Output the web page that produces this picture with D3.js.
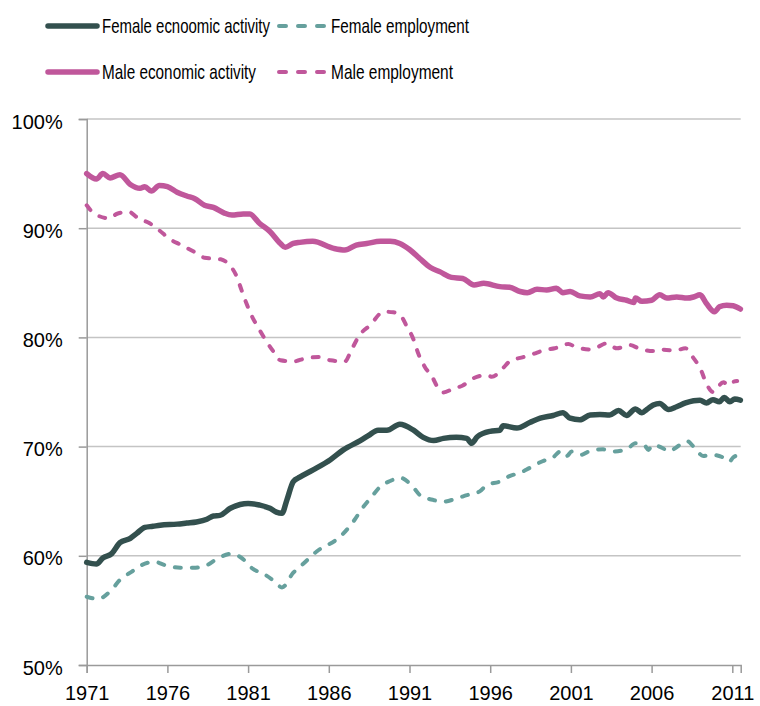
<!DOCTYPE html>
<html>
<head>
<meta charset="utf-8">
<script src="https://cdn.jsdelivr.net/npm/d3@7"></script>
<style>
  body { margin: 0; background: #fff; }
  svg text { font-family: "Liberation Sans", Arial, sans-serif; fill: #000; }
</style>
</head>
<body>
<div id="chart"></div>
<script>
// series (year, percent)
var femActYears = [1971.0, 1971.6, 1972.0, 1972.55, 1973.06, 1973.7, 1974.1, 1974.6, 1975.1, 1975.55, 1976.6, 1977.2, 1977.8, 1978.45, 1978.85, 1979.25, 1979.9, 1980.5, 1981.0, 1981.7, 1982.35, 1982.75, 1983.1, 1983.4, 1983.8, 1984.2, 1985.0, 1986.1, 1986.9, 1987.95, 1988.45, 1989.05, 1989.6, 1990.4, 1991.25, 1991.85, 1992.5, 1993.1, 1993.9, 1994.55, 1994.85, 1995.2, 1996.0, 1996.6, 1996.8, 1997.65, 1998.45, 1999.1, 1999.9, 2000.5, 2000.95, 2001.55, 2002.2, 2002.8, 2003.4, 2003.95, 2004.45, 2005.0, 2005.4, 2005.7, 2006.1, 2006.5, 2007.05, 2007.55, 2008.1, 2008.6, 2009.0, 2009.4, 2009.8, 2010.2, 2010.5, 2010.85, 2011.15, 2011.5];
var femActValues = [59.4, 59.25, 59.8, 60.2, 61.2, 61.6, 62.05, 62.6, 62.7, 62.8, 62.9, 63.0, 63.1, 63.35, 63.65, 63.7, 64.35, 64.7, 64.8, 64.65, 64.35, 64.0, 63.9, 65.1, 66.8, 67.2, 67.85, 68.8, 69.7, 70.55, 71.0, 71.5, 71.5, 72.05, 71.5, 70.85, 70.55, 70.75, 70.85, 70.75, 70.3, 70.9, 71.4, 71.5, 71.9, 71.7, 72.2, 72.6, 72.85, 73.1, 72.6, 72.45, 72.9, 72.95, 72.9, 73.3, 72.85, 73.45, 73.1, 73.4, 73.8, 73.95, 73.4, 73.65, 74.0, 74.2, 74.25, 74.0, 74.3, 74.1, 74.5, 74.1, 74.35, 74.25];

var femEmpYears = [1971.0, 1971.7, 1972.55, 1973.06, 1973.8, 1974.4, 1975.2, 1975.85, 1976.8, 1977.6, 1978.45, 1979.05, 1980.0, 1980.6, 1981.3, 1981.95, 1982.65, 1983.1, 1983.8, 1984.4, 1985.25, 1986.7, 1987.6, 1988.0, 1988.65, 1989.2, 1989.8, 1990.4, 1991.25, 1991.65, 1992.5, 1993.1, 1993.9, 1994.55, 1995.35, 1995.8, 1996.6, 1997.2, 1997.85, 1998.45, 1999.3, 1999.8, 2000.4, 2000.75, 2001.05, 2001.65, 2002.1, 2003.0, 2003.55, 2004.45, 2005.0, 2005.6, 2005.8, 2006.05, 2006.7, 2007.05, 2007.35, 2008.2, 2008.6, 2009.2, 2009.75, 2010.55, 2010.8, 2011.05, 2011.3];
var femEmpValues = [56.25, 56.05, 56.9, 57.8, 58.55, 59.15, 59.45, 59.15, 58.9, 58.9, 59.15, 59.7, 60.2, 59.8, 58.8, 58.35, 57.65, 57.1, 58.45, 59.25, 60.4, 61.75, 63.3, 64.2, 65.4, 66.35, 66.85, 67.15, 66.25, 65.55, 65.1, 64.95, 65.25, 65.55, 65.9, 66.5, 66.8, 67.3, 67.6, 68.05, 68.7, 68.9, 69.6, 69.15, 69.55, 69.25, 69.55, 69.75, 69.55, 69.75, 70.3, 70.05, 69.7, 70.15, 69.85, 69.55, 69.75, 70.5, 70.0, 69.15, 69.25, 68.9, 68.6, 69.0, 69.2];

var maleActYears = [1971.0, 1971.6, 1972.0, 1972.45, 1973.06, 1973.7, 1974.3, 1974.6, 1975.0, 1975.5, 1976.0, 1976.6, 1977.2, 1977.7, 1978.3, 1978.85, 1979.5, 1980.0, 1980.7, 1981.1, 1981.7, 1982.35, 1983.0, 1983.3, 1983.8, 1984.2, 1985.0, 1986.3, 1987.0, 1987.7, 1988.35, 1989.2, 1989.8, 1990.4, 1991.0, 1991.65, 1992.3, 1992.9, 1993.6, 1994.3, 1995.0, 1995.6, 1996.6, 1997.2, 1997.85, 1998.3, 1998.9, 1999.5, 2000.1, 2000.5, 2000.95, 2001.55, 2002.2, 2002.8, 2003.0, 2003.3, 2003.85, 2004.45, 2004.9, 2005.0, 2005.4, 2006.0, 2006.5, 2006.95, 2007.55, 2008.2, 2008.6, 2009.0, 2009.4, 2009.9, 2010.2, 2010.65, 2011.05, 2011.5];
var maleActValues = [95.0, 94.5, 95.0, 94.6, 94.9, 94.0, 93.65, 93.8, 93.4, 93.9, 93.8, 93.3, 92.95, 92.7, 92.1, 91.9, 91.4, 91.2, 91.3, 91.3, 90.45, 89.7, 88.6, 88.25, 88.6, 88.7, 88.8, 88.15, 88.0, 88.45, 88.6, 88.8, 88.8, 88.6, 88.05, 87.2, 86.4, 86.0, 85.5, 85.4, 84.8, 84.95, 84.65, 84.6, 84.2, 84.1, 84.4, 84.35, 84.5, 84.1, 84.2, 83.8, 83.7, 84.0, 83.7, 84.1, 83.6, 83.4, 83.2, 83.6, 83.3, 83.4, 83.9, 83.6, 83.7, 83.6, 83.7, 83.9, 83.1, 82.35, 82.8, 82.95, 82.9, 82.6];

var maleEmpYears = [1971.0, 1971.5, 1972.45, 1972.85, 1973.6, 1974.2, 1974.9, 1975.5, 1976.15, 1976.8, 1977.7, 1978.3, 1979.3, 1979.8, 1980.3, 1980.6, 1980.9, 1981.2, 1981.7, 1982.15, 1982.65, 1983.0, 1983.8, 1984.6, 1985.45, 1986.1, 1987.0, 1987.4, 1987.9, 1988.55, 1989.4, 1990.0, 1990.5, 1990.8, 1991.25, 1991.55, 1991.95, 1992.4, 1992.8, 1993.1, 1993.7, 1994.3, 1994.95, 1995.8, 1996.1, 1996.8, 1997.2, 1998.05, 1998.6, 1999.4, 2000.0, 2000.85, 2001.25, 2002.2, 2002.7, 2003.2, 2003.85, 2004.65, 2005.2, 2006.1, 2006.4, 2007.45, 2008.1, 2008.6, 2009.0, 2009.45, 2009.8, 2010.45, 2010.75, 2011.0, 2011.3];
var maleEmpValues = [92.1, 91.3, 90.9, 91.3, 91.5, 90.9, 90.45, 89.8, 89.0, 88.5, 87.8, 87.3, 87.15, 86.7, 85.55, 84.3, 83.1, 82.05, 80.7, 79.6, 78.55, 77.9, 77.8, 78.1, 78.2, 77.9, 77.8, 78.85, 80.2, 81.1, 82.35, 82.3, 81.9, 81.1, 79.8, 78.5, 77.3, 76.4, 75.3, 74.95, 75.3, 75.6, 76.25, 76.55, 76.4, 77.2, 77.8, 78.2, 78.45, 78.85, 79.0, 79.4, 79.15, 78.9, 79.15, 79.45, 79.0, 79.3, 79.0, 78.75, 78.9, 78.8, 79.0, 78.1, 77.2, 75.6, 75.0, 75.9, 75.6, 75.9, 76.0];

var yTicks = [50, 60, 70, 80, 90, 100];
var xTicks = [1971, 1976, 1981, 1986, 1991, 1996, 2001, 2006, 2011];

var seriesNames = ["Female ecnoomic activity", "Female employment", "Male economic activity", "Male employment"];

// size setup
var width = 760, height = 706;
var plot = {left: 86.7, right: 740.7, top: 119, bottom: 665};

var svg = d3.select("#chart").append("svg")
    .attr("width", width)
    .attr("height", height);

var xScale = d3.scaleLinear().domain([1971, 2011.52]).range([plot.left, plot.right]);
var yScale = d3.scaleLinear().domain([50, 100]).range([plot.bottom, plot.top]);

// gridlines
svg.append("g").selectAll("line")
    .data(yTicks.filter(function(d){ return d > 50; }))
    .enter().append("line")
    .attr("x1", plot.left).attr("x2", plot.right)
    .attr("y1", function(d){ return yScale(d); })
    .attr("y2", function(d){ return yScale(d); })
    .style("stroke", "#c4c4c4")
    .style("stroke-width", 1.5);

// axes
var yAxis = d3.axisLeft(yScale).tickValues(yTicks)
    .tickFormat(function(d){ return d + "%"; })
    .tickSize(8).tickPadding(16);
var xAxis = d3.axisBottom(xScale).tickValues(xTicks)
    .tickFormat(d3.format("d"))
    .tickSize(8).tickPadding(6);

var axY = svg.append("g")
    .attr("transform", "translate(" + plot.left + ",0)")
    .call(yAxis);
var axX = svg.append("g")
    .attr("transform", "translate(0," + plot.bottom + ")")
    .call(xAxis);

[axX, axY].forEach(function(ax){
    ax.select(".domain").style("stroke", "#9a9a9a").style("stroke-width", 1.5);
    ax.selectAll(".tick line").style("stroke", "#9a9a9a").style("stroke-width", 1.5);
    ax.selectAll("text").style("font-size", "20px").style("fill", "#000")
      .style("font-family", "'Liberation Sans', Arial, sans-serif");
});
axX.selectAll("text").attr("y", 35).attr("dy", 0);
axY.selectAll("text").attr("dy", "0.45em");

// lines
var line = d3.line()
    .x(function(d){ return xScale(d[0]); })
    .y(function(d){ return yScale(d[1]); })
    .curve(d3.curveMonotoneX);

function pairs(ys, vs){ return ys.map(function(y, i){ return [y, vs[i]]; }); }

var series = [
    {name: seriesNames[0], data: pairs(femActYears, femActValues), color: "#33504e", dash: null},
    {name: seriesNames[1], data: pairs(femEmpYears, femEmpValues), color: "#66a09d", dash: "6,11"},
    {name: seriesNames[2], data: pairs(maleActYears, maleActValues), color: "#c0579b", dash: null},
    {name: seriesNames[3], data: pairs(maleEmpYears, maleEmpValues), color: "#c0579b", dash: "6,11"}
];

svg.append("g").selectAll("path")
    .data(series)
    .enter().append("path")
    .attr("d", function(d){ return line(d.data); })
    .style("fill", "none")
    .style("stroke", function(d){ return d.color; })
    .style("stroke-width", function(d){ return d.dash ? 4 : 5.5; })
    .style("stroke-dasharray", function(d){ return d.dash; })
    .style("stroke-linecap", "round")
    .style("stroke-linejoin", "round");

// legend
var legPos = [{x: 48, y: 26}, {x: 277, y: 26}, {x: 48, y: 72}, {x: 277, y: 72}];
var legTextLen = [168, 138, 154, 122];
var leg = svg.append("g").selectAll("g")
    .data(series)
    .enter().append("g")
    .attr("transform", function(d, i){ return "translate(" + legPos[i].x + "," + legPos[i].y + ")"; });

leg.append("line")
    .attr("x1", function(d){ return d.dash ? 2 : 0; })
    .attr("x2", function(d){ return d.dash ? 48 : 49; })
    .style("stroke", function(d){ return d.color; })
    .style("stroke-width", function(d){ return d.dash ? 4 : 5.5; })
    .style("stroke-dasharray", function(d){ return d.dash ? "7,12" : null; })
    .style("stroke-linecap", "round");

leg.append("text")
    .attr("x", 54)
    .attr("dy", "0.35em")
    .attr("textLength", function(d, i){ return legTextLen[i]; })
    .attr("lengthAdjust", "spacingAndGlyphs")
    .style("font-size", "21px")
    .text(function(d){ return d.name; });
</script>
</body>
</html>
